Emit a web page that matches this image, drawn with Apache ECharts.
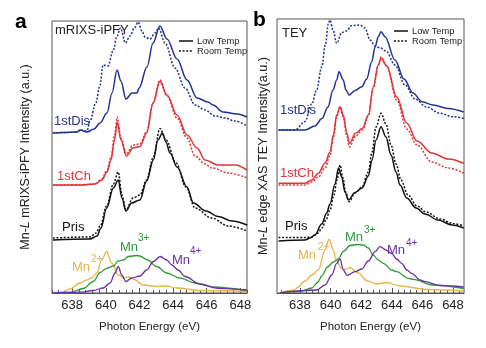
<!DOCTYPE html>
<html>
<head>
<meta charset="utf-8">
<script src="https://cdn.jsdelivr.net/npm/echarts@6/dist/echarts.min.js"></script>
<style>
  html, body { margin: 0; padding: 0; background: #fff; }
  #chart { width: 486px; height: 348px; }
</style>
</head>
<body>
<div id="chart"></div>
<script>
// Mn L-edge spectra, two detection modes; intensities in arbitrary units
// (curves are stacked with vertical offsets).

const energyTicks = [638, 640, 642, 644, 646, 648];

// ---- Panel a: mRIXS-iPFY ----
const pfyDisLow = [[636.85,160],[637.5,160.5],[638.3,161],[638.47,163],[638.88,161],[639.3,164],[639.66,170],[640.07,180],[640.37,200],[640.67,223],[640.9,212],[641.2,194],[641.56,200],[641.86,200],[641.98,205],[642.45,226],[642.81,250],[643.22,267],[643.64,254],[644.24,234],[644.83,213],[645.43,195],[646.08,191],[646.38,188],[646.97,181],[647.81,179],[648.4,176]];
const pfyDisRoom = [[636.85,160],[637.5,160.5],[638.3,161],[638.47,163],[638.88,162],[639.06,172],[639.4,190],[639.66,208],[639.83,228],[640.13,227],[640.43,242],[640.67,257],[640.87,265],[641.17,250],[641.44,257],[641.7,265],[641.92,271],[642.15,262],[642.33,256],[642.63,254],[642.93,260],[643.14,265],[643.52,250],[644.12,225],[644.71,205],[645.31,188],[645.9,183],[646.5,177],[647.09,175],[647.69,172],[648.4,167]];
const pfyChLow = [[636.86,108],[638.47,108],[639.36,109],[639.77,113],[640.07,121],[640.31,133],[640.52,153],[640.68,171],[640.9,153],[641.23,137],[641.62,145],[642.03,146.5],[642.43,160],[642.81,190],[643.22,211.5],[643.64,198],[644.24,178],[644.83,158],[645.43,145],[645.9,133],[646.68,128],[647.69,128],[648.4,123]];
const pfyChRoom = [[636.86,108],[638.47,108],[639.36,109],[639.77,114],[640.07,123],[640.31,136],[640.52,157],[640.68,176],[640.9,155],[641.23,139],[641.62,148],[642.03,149],[642.43,161],[642.81,190],[643.22,213],[643.64,197],[644.24,175],[644.83,155],[645.31,137],[645.9,129],[646.32,125],[647.27,120],[648.4,115]];
const pfyPrisLow = [[636.86,53],[639.06,54],[639.48,57],[639.71,65],[640.05,85],[640.45,105],[640.74,113],[640.96,95],[641.2,82],[641.54,90],[642.03,93],[642.43,112],[642.83,133],[643.1,153],[643.37,160],[643.58,151],[643.82,140],[644.24,126],[644.83,106],[645.21,90],[645.96,82],[646.68,76.5],[647.51,72],[648.4,68]];
const pfyPrisRoom = [[636.86,55],[639.06,56],[639.42,60],[639.66,67],[640.05,87],[640.45,109],[640.74,121],[640.96,98],[641.2,83],[641.62,95],[642.03,98],[642.43,113],[642.81,135],[643.22,164.5],[643.58,153],[644.18,130],[644.77,106],[645.31,85],[646.3,75],[647.29,67],[648.4,62]];
const pfyMn2 = [[636.85,0.3],[637.4,1],[637.87,4],[638.47,10],[638.86,13],[639.16,15],[639.46,20],[639.76,33],[640.05,41.5],[640.35,30],[640.74,18],[641.04,15],[641.34,16],[641.64,14],[642.23,8],[643.03,6.5],[643.62,7],[644.22,5],[645.6,2.5],[648.4,1.5]];
const pfyMn3 = [[636.85,0],[637.87,0.5],[638.66,4.5],[639.26,11.5],[639.66,20.5],[640.05,24.7],[640.45,27],[640.74,32],[641.04,33],[641.34,36.5],[641.84,37.5],[642.03,37],[642.43,33.5],[643.03,26.5],[643.62,20],[644.41,15],[645.31,10],[646.32,6],[648.4,2.5]];
const pfyMn4 = [[636.85,0.2],[638.5,0.8],[639.26,2.5],[639.85,5],[640.25,10],[640.55,20],[640.74,26.5],[640.95,18],[641.2,11.5],[641.54,15],[642.03,17],[642.43,23],[642.83,31.5],[643.24,36.5],[643.62,33],[643.94,28],[644.3,23],[644.71,16.5],[645.6,9],[646.68,4.7],[648.4,3]];

// ---- Panel b: TEY ----
const teyDisLow = [[636.6,163],[638.33,163],[638.98,167],[639.44,174.5],[639.83,186],[640.16,203],[640.4,213],[640.55,221.3],[640.83,213],[641.01,203],[641.21,198],[641.6,202.5],[642.04,206.3],[642.36,214],[642.69,231.3],[642.91,246],[643.12,256.3],[643.3,261.3],[643.56,256.3],[644.21,233],[644.8,214],[645.39,200],[645.98,191.3],[646.7,188],[647.68,184.5],[648.7,181]];
const teyDisRoom = [[636.6,163],[637.68,163],[638.33,171.5],[638.77,189],[639.09,203],[639.42,226],[639.67,249],[639.85,269],[639.96,273],[640.16,263],[640.4,249.7],[640.73,260.5],[641.04,262],[641.38,267.5],[641.92,268],[642.25,265],[642.58,253],[642.91,247],[643.26,245],[643.62,242],[644.21,228],[644.87,208],[645.52,194],[646.28,186],[647.15,179.7],[648.0,176.3],[648.7,174.7]];
const teyChLow = [[636.6,109.7],[638.33,109.7],[638.77,113],[639.2,119.7],[639.64,130],[639.96,141],[640.18,158],[640.4,178],[640.62,186.3],[640.83,178],[641.06,160],[641.24,149.7],[641.63,159.7],[642.09,164.7],[642.47,178],[642.79,206],[643.12,228],[643.3,234.7],[643.67,227],[644.32,196.3],[644.98,169.7],[645.65,152],[646.61,140],[647.7,134],[648.7,129.7]];
const teyChRoom = [[636.6,108],[638.33,108],[638.77,111],[639.2,116],[639.64,125],[639.96,137],[640.18,155],[640.4,176],[640.62,186],[640.83,176],[641.06,157],[641.24,146],[641.63,157],[642.09,163],[642.47,177],[642.79,205],[643.12,228],[643.3,236],[643.67,227],[644.32,193],[644.98,164],[645.65,148],[646.61,131],[647.7,125],[648.7,120]];
const teyPrisLow = [[636.6,52],[638.33,53],[638.66,55],[638.98,58],[639.42,69],[639.75,80],[639.96,89],[640.29,109],[640.52,125],[640.73,116],[640.94,101],[641.17,93],[641.6,100.5],[642.06,105],[642.47,117],[642.71,133],[642.97,153],[643.3,166.3],[643.62,156],[643.95,138],[644.28,121],[644.54,108],[644.98,95],[645.59,85],[646.17,79],[647.02,73],[647.94,68],[648.7,65]];
const teyPrisRoom = [[636.6,55.5],[638.33,55.5],[638.79,56],[639.18,60],[639.44,65],[639.7,73],[639.96,83],[640.22,98],[640.42,113],[640.62,128],[640.81,115],[640.98,101],[641.21,91.3],[641.6,100],[642.06,106],[642.47,121],[642.71,141],[642.97,166],[643.3,179.7],[643.62,169],[643.95,148],[644.28,129],[644.6,113],[645.06,98],[645.65,87],[646.24,81],[647.15,74],[648.0,69.5],[648.7,67]];
const teyMn2 = [[636.7,0.5],[637.68,3],[637.79,5],[638.33,12],[638.79,18],[639.2,23],[639.64,43],[639.9,53.5],[640.18,43],[640.36,33],[640.73,24.7],[641.01,23.5],[641.27,25.5],[641.76,20.5],[642.42,12],[643.02,9],[643.67,10.5],[644.54,7],[646.28,3.5],[648.7,2]];
const teyMn3 = [[636.7,0],[638.0,1.5],[638.77,5],[639.18,11],[639.42,17],[639.8,26],[640.18,31],[640.51,34],[640.83,41.5],[641.27,47.5],[641.73,48.5],[642.14,48],[642.47,45],[642.79,38],[643.12,33],[643.45,29.7],[643.99,23],[644.32,21.3],[645.08,14.7],[645.41,13.7],[646.66,8],[648.7,4.5]];
const teyMn4 = [[636.7,0.2],[639.09,3],[639.64,8],[640.08,18],[640.4,29.7],[640.62,34],[640.83,23],[641.08,17.5],[641.6,21.3],[642.04,24],[642.47,32],[642.91,41.3],[643.23,46.3],[643.67,42.5],[643.99,39.7],[644.32,34],[644.65,29.7],[644.98,23],[645.3,19.7],[645.85,13],[646.17,11.3],[647.15,7.5],[648.7,6]];

const COLORS = { dis: '#22328f', ch: '#e0343a', pris: '#111111', mn2: '#e8b446', mn3: '#2e9a36', mn4: '#6a2fa6' };
const FONT = '"Liberation Sans", Arial, sans-serif';
const FRAME = '#555';
const DOTS = [2, 1.6];

// minor ticks every 0.4 eV
function minorTicks(from, to) {
  const out = [];
  for (let k = Math.round(from / 0.4); k * 0.4 <= to + 1e-9; k++) out.push(+(k * 0.4).toFixed(1));
  return out;
}

const panels = [
  { left: 52, top: 21, width: 195, height: 272, xmin: 636.8, xmax: 648.4, ymax: 272 },
  { left: 277, top: 19, width: 187, height: 274, xmin: 636.5, xmax: 648.72, ymax: 274 }
];

const grid = panels.map(p => ({
  left: p.left, top: p.top, width: p.width, height: p.height,
  show: true, borderColor: FRAME, borderWidth: 1, backgroundColor: 'transparent'
}));

const xAxis = [];
const yAxis = [];
panels.forEach((p, i) => {
  xAxis.push({
    gridIndex: i, type: 'value', min: p.xmin, max: p.xmax, position: 'bottom',
    axisLine: { show: true, lineStyle: { color: FRAME, width: 1 } },
    axisTick: { show: true, inside: true, length: 5, customValues: energyTicks, lineStyle: { color: FRAME } },
    axisLabel: { customValues: energyTicks, fontSize: 13, color: '#222', fontFamily: FONT, margin: 6 },
    splitLine: { show: false },
    name: 'Photon Energy (eV)', nameLocation: 'middle', nameGap: 28,
    nameTextStyle: { fontSize: 11.5, color: '#222', fontFamily: FONT }
  });
  xAxis.push({
    gridIndex: i, type: 'value', min: p.xmin, max: p.xmax, position: 'bottom',
    axisLine: { show: false },
    axisTick: { show: true, inside: true, length: 3, customValues: minorTicks(p.xmin, p.xmax), lineStyle: { color: FRAME } },
    axisLabel: { show: false },
    splitLine: { show: false }
  });
  yAxis.push({ gridIndex: i, type: 'value', min: 0, max: p.ymax, show: false });
});

function line(name, data, panel, color, dotted, width) {
  return {
    name, type: 'line', data, xAxisIndex: panel * 2, yAxisIndex: panel,
    symbol: 'none', smooth: 0.35, smoothMonotone: 'x', animation: false,
    lineStyle: { color, width: width || 1.5, type: dotted ? DOTS : 'solid' },
    itemStyle: { color }
  };
}

const series = [
  line('Pris', pfyPrisLow, 0, COLORS.pris, false),
  line('Pris RT', pfyPrisRoom, 0, COLORS.pris, true),
  line('1stCh', pfyChLow, 0, COLORS.ch, false),
  line('1stCh RT', pfyChRoom, 0, COLORS.ch, true),
  line('1stDis', pfyDisLow, 0, COLORS.dis, false),
  line('1stDis RT', pfyDisRoom, 0, COLORS.dis, true),
  line('Mn2+', pfyMn2, 0, COLORS.mn2, false, 1.3),
  line('Mn3+', pfyMn3, 0, COLORS.mn3, false, 1.3),
  line('Mn4+', pfyMn4, 0, COLORS.mn4, false, 1.3),
  line('Pris', teyPrisLow, 1, COLORS.pris, false),
  line('Pris RT', teyPrisRoom, 1, COLORS.pris, true),
  line('1stCh', teyChLow, 1, COLORS.ch, false),
  line('1stCh RT', teyChRoom, 1, COLORS.ch, true),
  line('1stDis', teyDisLow, 1, COLORS.dis, false),
  line('1stDis RT', teyDisRoom, 1, COLORS.dis, true),
  line('Mn2+', teyMn2, 1, COLORS.mn2, false, 1.3),
  line('Mn3+', teyMn3, 1, COLORS.mn3, false, 1.3),
  line('Mn4+', teyMn4, 1, COLORS.mn4, false, 1.3)
];

function txt(text, x, y, color, size, extraStyle) {
  return {
    type: 'text', x, y, silent: true,
    style: Object.assign({ text, fill: color, fontSize: size, fontFamily: FONT, align: 'left', verticalAlign: 'middle' }, extraStyle || {})
  };
}

function ion(x, y, charge, color, supDx, supDy) {
  return [
    txt('Mn', x, y, color, 13),
    txt(charge, x + supDx, y - supDy, color, 10)
  ];
}

// legend key: solid = Low Temp, dotted = Room Temp
function tempKey(x, y) {
  return [
    { type: 'line', silent: true, shape: { x1: x, y1: y, x2: x + 14, y2: y }, style: { stroke: '#111', lineWidth: 1.5 } },
    { type: 'line', silent: true, shape: { x1: x, y1: y + 10, x2: x + 14, y2: y + 10 }, style: { stroke: '#111', lineWidth: 1.5, lineDash: DOTS } },
    txt('Low Temp', x + 18, y, '#222', 9.3),
    txt('Room Temp', x + 18, y + 10, '#222', 9.3)
  ];
}

const graphic = [
  txt('a', 15, 22, '#000', 21, { fontWeight: 'bold' }),
  txt('b', 253, 20, '#000', 21, { fontWeight: 'bold' }),
  txt('mRIXS-iPFY', 55, 30, '#222', 13),
  txt('TEY', 282, 33, '#222', 13),
  ...tempKey(179, 41),
  ...tempKey(394, 31),
  txt('1stDis', 54, 121, COLORS.dis, 13),
  txt('1stCh', 57, 176, COLORS.ch, 13),
  txt('Pris', 62, 227, '#111', 13),
  txt('1stDis', 280, 110, COLORS.dis, 13),
  txt('1stCh', 280, 173, COLORS.ch, 13),
  txt('Pris', 285, 226, '#111', 13),
  ...ion(72, 267, '2+', COLORS.mn2, 19, 8),
  ...ion(120, 247, '3+', COLORS.mn3, 18, 9),
  ...ion(172, 260, '4+', COLORS.mn4, 18, 9),
  ...ion(298, 255, '2+', COLORS.mn2, 20, 8),
  ...ion(345, 237, '3+', COLORS.mn3, 19, 7),
  ...ion(387, 250, '4+', COLORS.mn4, 19, 7),
  {
    type: 'text', x: 26, y: 157, rotation: Math.PI / 2, silent: true,
    style: {
      text: 'Mn-{i|L} mRIXS-iPFY Intensity (a.u.)', fill: '#222', fontSize: 12.5, fontFamily: FONT,
      align: 'center', verticalAlign: 'middle',
      rich: { i: { fontStyle: 'italic', fontSize: 12.5, fontFamily: FONT, fill: '#222' } }
    }
  },
  {
    type: 'text', x: 263, y: 156, rotation: Math.PI / 2, silent: true,
    style: {
      text: 'Mn-{i|L} edge XAS TEY Intensity(a.u.)', fill: '#222', fontSize: 12.7, fontFamily: FONT,
      align: 'center', verticalAlign: 'middle',
      rich: { i: { fontStyle: 'italic', fontSize: 12.7, fontFamily: FONT, fill: '#222' } }
    }
  }
];

const chart = echarts.init(document.getElementById('chart'), null, { renderer: 'canvas' });
chart.setOption({
  backgroundColor: '#fff',
  animation: false,
  grid, xAxis, yAxis, series, graphic
});
</script>
</body>
</html>
